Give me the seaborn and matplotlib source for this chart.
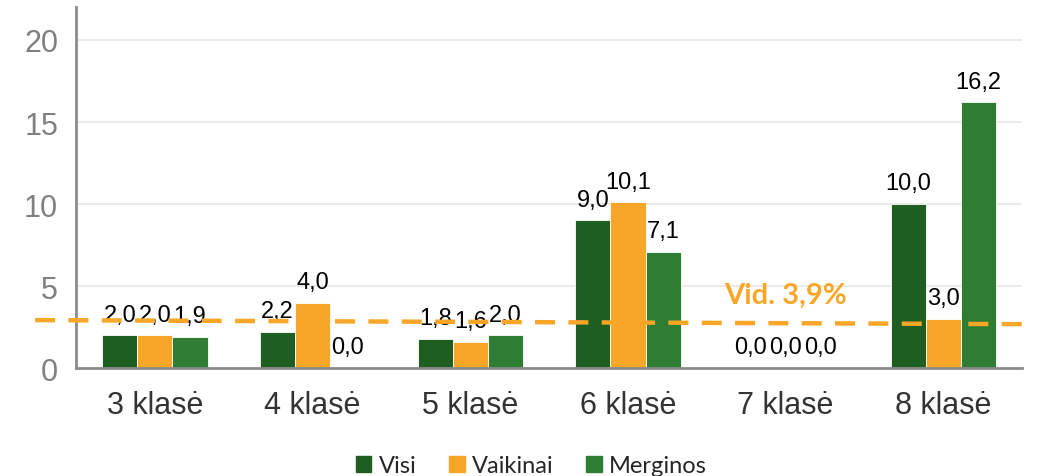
import pandas as pd
import numpy as np
import matplotlib
matplotlib.use('Agg')
import matplotlib.pyplot as plt
import seaborn as sns

# data
categories = ['3 klasė', '4 klasė', '5 klasė', '6 klasė', '7 klasė', '8 klasė']
series_names = ['Visi', 'Vaikinai', 'Merginos']
visi = [2.0, 2.2, 1.8, 9.0, 0.0, 10.0]
vaikinai = [2.0, 4.0, 1.6, 10.1, 0.0, 3.0]
merginos = [1.9, 0.0, 2.0, 7.1, 0.0, 16.2]
avg_label = 'Vid. 3,9%'
avg_line_y = [2.93, 2.68]   # drawn slightly tilted in the original

colors = ['#1E5E20', '#F8A627', '#2E7D32']

df = pd.DataFrame({
    'klase': categories * 3,
    'serija': [s for s in series_names for _ in categories],
    'reiksme': visi + vaikinai + merginos,
})

sns.set_style('white')
plt.rcParams['font.family'] = ['Liberation Sans', 'DejaVu Sans']

fig = plt.figure(figsize=(10.42, 4.77), dpi=100)
ax = fig.add_axes([0.073, 0.226, 0.908, 0.757])

sns.barplot(data=df, x='klase', y='reiksme', hue='serija', order=categories,
            hue_order=series_names, palette=colors, saturation=1, width=0.667, gap=0,
            edgecolor='white', linewidth=0.6, errorbar=None, ax=ax, zorder=2)

for cont in ax.containers:
    ax.bar_label(cont, labels=[f'{v:.1f}'.replace('.', ',') for v in cont.datavalues],
                 padding=7, fontsize=17, color='black', zorder=3)

ax.set_ylim(0, 22)
ax.set_xlim(-0.5, len(categories) - 0.5)
ax.set_yticks([0, 5, 10, 15, 20])
ax.yaxis.grid(True, color='#e6e6e6', linewidth=1.2, zorder=0)
ax.set_axisbelow(True)

# ticks between groups
ax.set_xticks(np.arange(len(categories)))
ax.set_xticklabels(categories, fontsize=22, color='#333333')
ax.set_xticks(np.arange(len(categories) + 1) - 0.5, minor=True)
ax.tick_params(axis='x', which='major', length=0, pad=16)
ax.tick_params(axis='x', which='minor', length=7, width=2, color='#8c8c8c')
ax.tick_params(axis='y', length=7, width=2, color='#8c8c8c', labelsize=22,
               labelcolor='#808080', pad=6)
ax.set_xlabel('')
ax.set_ylabel('')

for side in ['top', 'right']:
    ax.spines[side].set_visible(False)
for side in ['left', 'bottom']:
    ax.spines[side].set_color('#8c8c8c')
    ax.spines[side].set_linewidth(2)

# average line
ax.plot([-0.76, 5.56], avg_line_y, color='#F8A627', linewidth=3.2,
        linestyle=(0, (4.5, 3)), clip_on=False, zorder=4)
ax.text(4.0, 4.45, avg_label, ha='center', va='center', fontsize=21,
        fontweight='bold', color='#F8A627', family=['Lato', 'DejaVu Sans'])

ax.legend_.remove()
handles = [plt.Rectangle((0, 0), 1, 1, color=c) for c in colors]
fig.legend(handles, series_names, loc='center', bbox_to_anchor=(0.51, 0.022),
           ncol=3, frameon=False, prop={'family': 'Lato', 'size': 17},
           handlelength=0.65, handleheight=0.65, handletextpad=0.3, columnspacing=1.4)

fig.savefig('out.png', dpi=100)
